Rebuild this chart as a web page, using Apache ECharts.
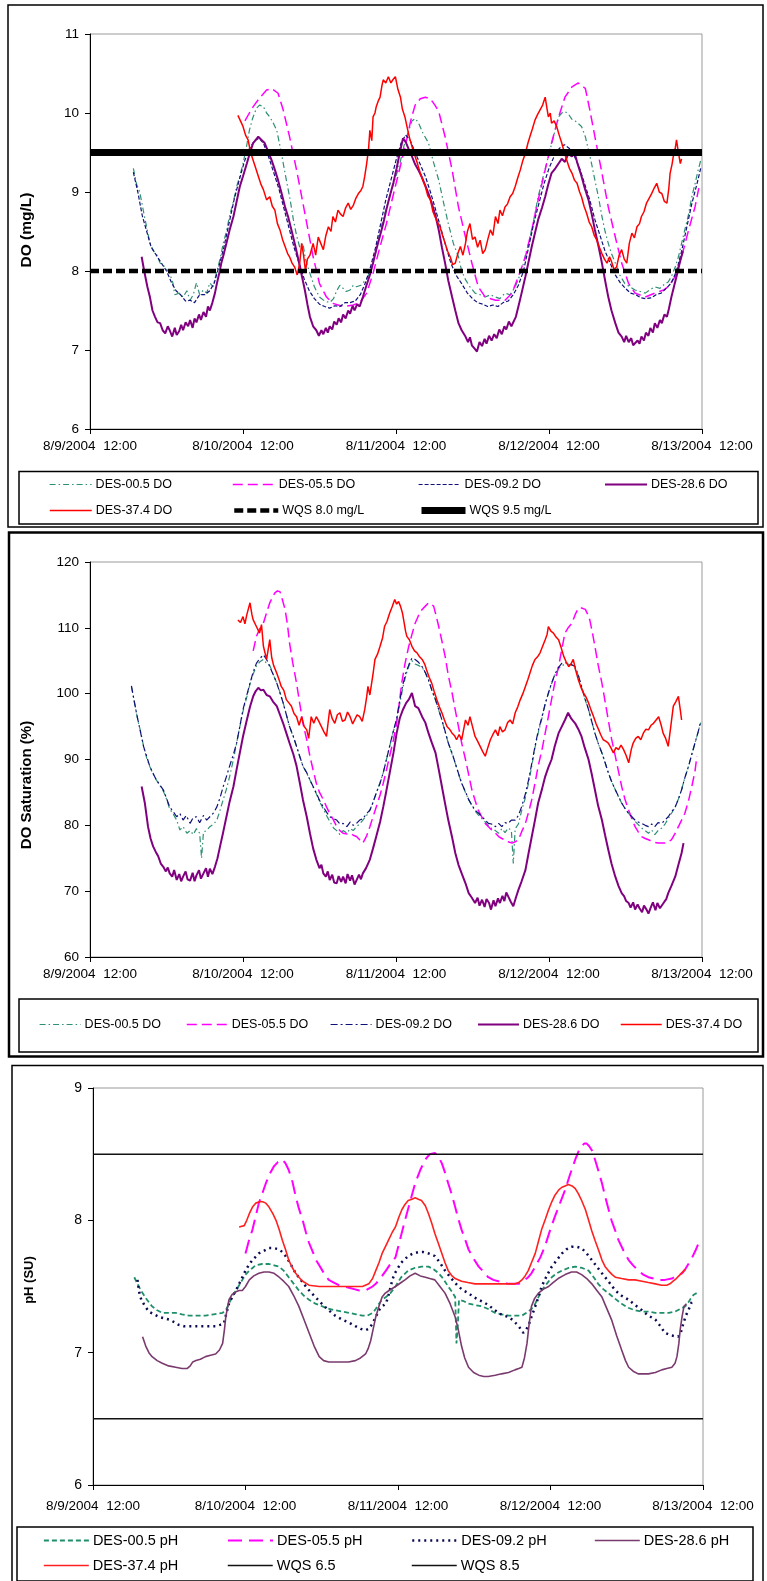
<!DOCTYPE html>
<html><head><meta charset="utf-8">
<script src="https://cdn.jsdelivr.net/npm/echarts@6/dist/echarts.min.js"></script>
<style>html,body{margin:0;padding:0;background:#fff}#c{width:767px;height:1581px}</style>
</head><body><div id="c"></div><script>
// hours since 8/9/2004 12:00
const xTickLabels = ['8/9/2004  12:00','8/10/2004  12:00','8/11/2004  12:00','8/12/2004  12:00','8/13/2004  12:00'];

// ---------- Panel 1 : DO (mg/L) ----------
const do005 = [[6.8,9.30],[7.3,9.1],[7.8,9.0],[8.4,8.75],[8.9,8.55],[9.4,8.35],[10,8.25],[10.5,8.2],[11,8.1],[11.8,8.05],[12.5,7.97],[13,7.85],[13.3,7.7],[14,7.72],[14.6,7.67],[15.2,7.75],[15.7,7.63],[16.2,7.7],[16.7,7.85],[17.2,7.7],[17.8,7.76],[18.3,7.72],[18.8,7.85],[19.3,7.8],[19.9,8.0],[20.4,8.15],[20.9,8.35],[21.4,8.5],[21.9,8.7],[22.5,8.88],[23,9.07],[23.5,9.2],[24,9.36],[24.5,9.55],[25,9.78],[25.5,9.93],[26.1,10.06],[26.6,10.1],[27.2,10.08],[27.7,10.0],[28.2,9.95],[28.7,9.88],[29.3,9.78],[30,9.5],[30.8,9.15],[31.4,8.9],[31.9,8.65],[32.4,8.45],[32.9,8.3],[33.4,8.35],[33.8,8.15],[34.5,7.97],[35.2,7.8],[36,7.67],[36.8,7.62],[37.6,7.6],[38.2,7.65],[38.7,7.75],[39.2,7.82],[39.7,7.78],[40.2,7.74],[40.8,7.76],[41.3,7.82],[41.8,7.8],[42.5,7.82],[43.4,7.9],[44,8.0],[44.4,8.1],[45,8.3],[45.5,8.5],[46.2,8.72],[47,8.94],[47.8,9.15],[48.6,9.36],[49.3,9.6],[50,9.78],[50.5,9.9],[51,9.93],[51.5,9.88],[52.2,9.75],[53.1,9.62],[53.8,9.4],[54.7,9.15],[55.5,8.85],[56.2,8.6],[57,8.35],[57.8,8.18],[58.3,8.0],[58.9,7.89],[59.6,7.8],[60.4,7.72],[61.2,7.7],[62,7.67],[62.8,7.7],[63.6,7.67],[64.3,7.65],[65.1,7.72],[65.9,7.7],[66.7,7.8],[67.2,7.9],[67.7,8.0],[68.3,8.2],[68.8,8.35],[69.5,8.6],[70.3,8.94],[71.1,9.2],[71.9,9.45],[72.7,9.7],[73.5,9.95],[74,10.0],[74.5,10.02],[75.1,9.98],[75.6,9.92],[76.1,9.9],[77.1,9.83],[77.7,9.7],[78.2,9.53],[78.7,9.35],[79.2,9.15],[79.8,8.92],[80.3,8.69],[80.8,8.5],[81.3,8.35],[81.8,8.22],[82.4,8.1],[83.1,7.95],[83.9,7.84],[84.7,7.8],[85.5,7.76],[86.3,7.74],[87.1,7.72],[87.8,7.76],[88.6,7.8],[89.4,7.78],[90.2,7.84],[90.7,7.86],[91.2,7.93],[91.8,8.05],[92.3,8.18],[92.8,8.35],[93.3,8.52],[93.9,8.72],[94.4,8.94],[94.9,9.1],[95.4,9.28],[95.8,9.4]];
const do055 = [[24.3,9.9],[25,10.0],[25.6,10.08],[26.6,10.19],[27.7,10.29],[28.5,10.31],[29.5,10.25],[30.3,10.04],[31.3,9.7],[32.4,9.28],[33.4,8.86],[34.2,8.52],[35,8.18],[36,7.84],[37.1,7.67],[38.1,7.59],[39.7,7.55],[41.3,7.57],[42.3,7.6],[43.4,7.72],[44.4,7.97],[45.5,8.31],[46.5,8.6],[47.5,8.94],[48.6,9.3],[49.5,9.6],[50.3,9.9],[51,10.1],[51.8,10.18],[52.6,10.2],[53.4,10.18],[54.1,10.1],[54.7,10.02],[55.7,9.7],[56.8,9.28],[57.8,8.81],[58.9,8.43],[59.9,8.1],[60.9,7.8],[62,7.67],[63.6,7.63],[65.1,7.63],[66.2,7.72],[67.2,7.93],[68.3,8.18],[69.3,8.52],[70.3,8.9],[71.4,9.28],[72.4,9.62],[73.5,9.95],[74.5,10.2],[75.6,10.33],[76.6,10.38],[77.7,10.31],[78.4,10.04],[79.2,9.7],[80.3,9.24],[81.3,8.81],[82.4,8.43],[83.4,8.1],[84.5,7.84],[85.5,7.72],[87.1,7.67],[88.6,7.72],[90,7.76],[90.7,7.8],[91.8,7.93],[92.8,8.18],[93.9,8.52],[94.9,8.81],[95.5,9.05]];
const do092 = [[6.8,9.25],[7.5,9.0],[8.2,8.7],[8.9,8.5],[9.6,8.3],[10.4,8.2],[11.2,8.1],[12,8.0],[12.8,7.85],[13.5,7.75],[14.2,7.7],[15,7.62],[15.7,7.63],[16.4,7.6],[17.2,7.7],[18,7.7],[18.8,7.75],[19.5,7.85],[20.2,8.05],[21,8.3],[21.8,8.6],[22.6,8.9],[23.4,9.15],[24.2,9.38],[25,9.55],[25.8,9.65],[26.5,9.68],[27.2,9.62],[28,9.45],[28.8,9.25],[29.6,9.05],[30.4,8.8],[31.2,8.55],[32,8.3],[32.8,8.1],[33.6,7.9],[34.4,7.75],[35.2,7.65],[36,7.58],[36.8,7.55],[37.6,7.53],[38.4,7.56],[39.2,7.55],[40,7.6],[40.8,7.6],[41.6,7.62],[42.4,7.7],[43.2,7.85],[44,8.05],[44.8,8.3],[45.6,8.6],[46.4,8.9],[47.2,9.15],[48,9.4],[48.8,9.62],[49.5,9.72],[50.2,9.66],[51,9.5],[51.8,9.35],[52.6,9.2],[53.4,9.0],[54.2,8.78],[55,8.55],[55.8,8.32],[56.6,8.1],[57.4,7.95],[58.3,7.84],[59.2,7.72],[60,7.65],[60.8,7.6],[61.6,7.58],[62.4,7.55],[63.2,7.57],[64,7.55],[64.8,7.6],[65.6,7.62],[66.4,7.7],[67.2,7.82],[68,8.0],[68.8,8.3],[69.6,8.6],[70.4,8.85],[71.2,9.1],[72,9.3],[72.8,9.45],[73.6,9.55],[74.4,9.6],[75.2,9.55],[76,9.45],[76.8,9.3],[77.6,9.1],[78.4,8.9],[79.2,8.65],[80,8.45],[80.8,8.25],[81.6,8.1],[82.4,7.95],[83.2,7.85],[84,7.78],[84.8,7.72],[85.6,7.7],[86.4,7.66],[87.2,7.65],[88,7.66],[88.8,7.7],[89.6,7.72],[90.4,7.78],[91.2,7.85],[92,8.0],[92.8,8.25],[93.6,8.55],[94.4,8.85],[95.2,9.1],[95.8,9.3]];
const do286 = [[8.1,8.18],[8.5,8.0],[9,7.8],[9.4,7.67],[9.8,7.5],[10.2,7.42],[10.6,7.35],[11,7.34],[11.4,7.25],[11.8,7.21],[12.2,7.3],[12.5,7.25],[12.9,7.17],[13.3,7.28],[13.6,7.19],[14,7.24],[14.3,7.32],[14.6,7.25],[15,7.35],[15.4,7.3],[15.7,7.38],[16.1,7.28],[16.4,7.4],[16.7,7.35],[17.1,7.45],[17.4,7.38],[17.8,7.48],[18.2,7.42],[18.5,7.55],[18.8,7.5],[19.2,7.6],[19.6,7.72],[19.9,7.84],[20.3,7.98],[20.6,8.1],[21,8.22],[21.4,8.35],[21.9,8.52],[22.5,8.69],[23,8.88],[23.5,9.07],[24,9.2],[24.6,9.36],[25.1,9.5],[25.6,9.62],[26,9.66],[26.4,9.7],[26.9,9.66],[27.4,9.62],[27.9,9.52],[28.5,9.4],[29,9.28],[29.5,9.15],[30,9.0],[30.6,8.81],[31.1,8.68],[31.6,8.52],[32.2,8.32],[32.7,8.14],[33.2,7.95],[33.7,7.76],[34.1,7.58],[34.5,7.42],[35,7.3],[35.5,7.25],[35.9,7.18],[36.3,7.25],[36.6,7.2],[37,7.28],[37.3,7.22],[37.6,7.3],[38,7.26],[38.3,7.36],[38.7,7.32],[39,7.4],[39.4,7.35],[39.7,7.45],[40.1,7.4],[40.5,7.5],[40.8,7.46],[41.2,7.56],[41.5,7.5],[41.9,7.58],[42.3,7.55],[42.8,7.67],[43.3,7.8],[43.9,7.95],[44.4,8.1],[44.9,8.27],[45.5,8.45],[46,8.6],[46.5,8.78],[47,8.94],[47.6,9.12],[48.1,9.3],[48.6,9.5],[49.1,9.68],[49.6,9.62],[50.1,9.52],[50.5,9.45],[51,9.35],[51.5,9.28],[52.1,9.18],[52.6,9.08],[53.1,8.98],[53.6,8.86],[54.2,8.7],[54.7,8.52],[55.2,8.3],[55.7,8.1],[56.2,7.88],[56.8,7.67],[57.3,7.5],[57.8,7.34],[58.3,7.25],[58.9,7.17],[59.3,7.1],[59.6,7.16],[59.9,7.06],[60.3,7.02],[60.7,6.98],[61.1,7.1],[61.5,7.05],[61.9,7.14],[62.2,7.08],[62.6,7.18],[63,7.12],[63.4,7.2],[63.8,7.15],[64.2,7.26],[64.6,7.2],[65,7.3],[65.3,7.26],[65.7,7.36],[66.1,7.3],[66.4,7.28],[66.8,7.42],[67.2,7.55],[67.7,7.72],[68.3,7.93],[68.8,8.12],[69.3,8.31],[69.8,8.48],[70.3,8.65],[70.9,8.8],[71.4,8.94],[71.9,9.1],[72.4,9.24],[73,9.3],[73.5,9.36],[74,9.42],[74.5,9.38],[75,9.48],[75.6,9.45],[76,9.5],[76.4,9.38],[77.1,9.2],[77.6,9.05],[78.2,8.9],[78.7,8.72],[79.2,8.52],[79.8,8.3],[80.3,8.1],[80.8,7.88],[81.3,7.67],[81.8,7.5],[82.4,7.34],[82.9,7.22],[83.4,7.17],[83.8,7.1],[84.1,7.18],[84.5,7.1],[84.9,7.15],[85.2,7.06],[85.5,7.04],[85.9,7.12],[86.2,7.08],[86.5,7.17],[86.9,7.12],[87.2,7.22],[87.6,7.18],[87.9,7.28],[88.3,7.22],[88.6,7.34],[89,7.28],[89.4,7.38],[89.7,7.34],[90.1,7.45],[90.5,7.42],[90.8,7.52],[91.2,7.67],[91.6,7.8],[92,7.93],[92.5,8.1],[93,8.25]];
const do374 = [[23.2,9.97],[23.6,9.9],[24,9.83],[24.4,9.72],[24.8,9.66],[25.2,9.5],[25.6,9.4],[26,9.3],[26.4,9.2],[26.8,9.1],[27.2,9.03],[27.7,8.9],[28.2,8.94],[28.6,8.82],[29,8.77],[29.4,8.6],[29.8,8.52],[30.2,8.4],[30.6,8.31],[31,8.22],[31.3,8.18],[31.7,8.1],[32.1,8.05],[32.5,7.95],[32.9,8.1],[33.2,8.35],[33.5,8.2],[33.8,8.0],[34.1,8.15],[34.5,8.2],[35,8.35],[35.4,8.2],[35.8,8.43],[36.2,8.35],[36.6,8.27],[37,8.45],[37.4,8.56],[37.8,8.5],[38.1,8.69],[38.5,8.62],[38.9,8.77],[39.3,8.72],[39.7,8.69],[40.1,8.8],[40.5,8.86],[40.9,8.78],[41.3,8.83],[41.7,8.92],[42.1,8.98],[42.5,9.02],[42.8,9.07],[43.1,9.2],[43.4,9.36],[43.7,9.55],[43.9,9.78],[44.2,9.65],[44.4,9.95],[44.7,10.0],[44.9,10.08],[45.2,10.15],[45.5,10.2],[45.8,10.35],[46,10.42],[46.4,10.38],[46.8,10.46],[47.2,10.38],[47.5,10.42],[47.9,10.46],[48.3,10.3],[48.7,10.2],[49,10.05],[49.4,9.95],[49.8,9.8],[50.2,9.66],[50.6,9.55],[51,9.45],[51.4,9.35],[51.8,9.24],[52.2,9.15],[52.6,9.07],[53,8.95],[53.4,8.9],[53.8,8.75],[54.1,8.69],[54.5,8.62],[54.9,8.56],[55.3,8.45],[55.7,8.35],[56.1,8.25],[56.5,8.18],[56.9,8.08],[57.3,8.1],[57.7,8.22],[58.1,8.31],[58.5,8.2],[58.9,8.35],[59.2,8.5],[59.6,8.6],[60,8.4],[60.4,8.43],[60.8,8.3],[61.2,8.39],[61.6,8.22],[62,8.27],[62.4,8.4],[62.8,8.52],[63.2,8.45],[63.6,8.69],[64,8.6],[64.3,8.77],[64.7,8.7],[65.1,8.81],[65.5,8.85],[65.9,8.94],[66.3,8.98],[66.7,9.07],[67.1,9.18],[67.5,9.28],[67.9,9.4],[68.3,9.49],[68.7,9.62],[69,9.7],[69.4,9.8],[69.8,9.91],[70.2,9.98],[70.6,10.04],[71,10.1],[71.4,10.2],[71.7,10.05],[71.9,9.95],[72.2,10.0],[72.4,9.87],[72.8,9.9],[73.2,9.83],[73.6,9.72],[74,9.62],[74.4,9.5],[74.8,9.4],[75.2,9.3],[75.6,9.24],[76,9.15],[76.4,9.11],[76.8,9.0],[77.1,8.94],[77.5,8.82],[77.9,8.73],[78.3,8.62],[78.7,8.56],[79.1,8.45],[79.5,8.39],[79.9,8.3],[80.3,8.22],[80.7,8.15],[81.1,8.1],[81.5,8.18],[81.8,8.12],[82.2,8.02],[82.6,8.05],[83,8.2],[83.4,8.27],[83.8,8.15],[84.2,8.1],[84.6,8.35],[85,8.48],[85.4,8.42],[85.8,8.56],[86.2,8.6],[86.5,8.69],[86.9,8.75],[87.3,8.86],[87.7,8.92],[88.1,8.98],[88.5,9.05],[88.9,9.11],[89.3,9.0],[89.7,8.98],[90.1,8.88],[90.5,8.86],[90.8,9.05],[91,9.24],[91.3,9.35],[91.5,9.45],[91.8,9.55],[92,9.66],[92.3,9.5],[92.6,9.36],[92.8,9.42]];
const wqs80 = [[0,8.0],[96,8.0]];
const wqs95 = [[0,9.5],[96,9.5]];

// ---------- Panel 2 : DO Saturation (%) ----------
const sat005 = [[6.5,101.0],[7,98.5],[7.5,96],[8,94],[8.4,92],[8.9,90.2],[9.4,88.9],[9.9,87.8],[10.4,86.9],[11,86],[11.5,85.2],[12,84],[12.5,82.5],[13,81.8],[13.6,80.8],[14.1,79.3],[14.6,79.8],[15.2,78.8],[15.7,79.2],[16.2,78.6],[16.7,79.5],[17.2,78.8],[17.5,75],[17.8,79],[18.3,79.2],[18.8,79.8],[19.4,80.2],[19.9,80.8],[20.4,82.3],[20.9,83.9],[21.4,85.5],[21.9,87.4],[22.5,90],[23,92.5],[23.5,95],[24,97.3],[24.6,99.5],[25.1,101.5],[25.6,103],[26.1,104.2],[26.6,104.8],[27.2,105.2],[27.7,104.6],[28.2,104.3],[28.7,103],[29.3,101.6],[29.8,100.2],[30.3,98.6],[30.8,96.8],[31.3,95],[31.9,93.4],[32.4,92],[32.9,90.4],[33.4,89],[34,87.9],[34.5,86.9],[35,85.8],[35.5,84.8],[36,83.6],[36.6,82.5],[37.1,81.5],[37.6,80.6],[38.2,79.6],[38.7,79.2],[39.2,78.6],[39.7,79.2],[40.3,78.8],[40.8,79.5],[41.3,79.2],[41.8,79.8],[42.3,80.2],[42.8,80.8],[43.4,81.5],[43.9,82.3],[44.4,83.5],[44.9,84.9],[45.5,86.5],[46,88],[46.5,90],[47,92],[47.5,94],[48.1,96],[48.6,98.5],[49.1,101],[49.6,103],[50.1,104.4],[50.5,105],[51,104.5],[51.5,104.3],[52.1,104],[52.6,103.2],[53.1,102],[53.6,100.6],[54.2,99],[54.7,97.5],[55.2,96],[55.7,94.2],[56.2,92.5],[56.8,90.8],[57.3,89.4],[57.8,87.8],[58.3,86.4],[58.9,85],[59.4,83.9],[59.9,83],[60.4,82.2],[60.9,81.6],[61.5,81],[62,80.5],[62.5,80],[63,79.5],[63.6,79.2],[64.1,78.8],[64.6,79.5],[65.1,78.9],[65.6,79.6],[66.1,79.2],[66.4,74.2],[66.7,79.5],[67.2,80.2],[67.7,82.2],[68.3,84.2],[68.8,86.5],[69.3,89],[69.8,91.8],[70.3,94],[70.9,96.3],[71.4,98.5],[71.9,100],[72.4,101.5],[73,103],[73.5,103.8],[74,104.3],[74.5,104.4],[75,104.5],[75.6,104.3],[76.1,103.8],[76.6,102.8],[77.1,101],[77.6,99.3],[78.2,97.6],[78.7,95.8],[79.2,94],[79.7,92.5],[80.3,91],[80.8,89.6],[81.3,88],[81.8,86.7],[82.4,85.4],[82.9,84.3],[83.4,83.4],[83.9,82.6],[84.5,81.8],[85,81.2],[85.5,80.6],[86,80.1],[86.5,79.6],[87.1,79.2],[87.6,78.8],[88.1,79.3],[88.6,78.6],[89.1,79.2],[89.7,79.6],[90.2,80.2],[90.7,81],[91.2,81.8],[91.8,82.8],[92.3,84],[92.8,85.4],[93.3,87.2],[93.9,89],[94.4,90.8],[94.9,92.5],[95.4,94.2],[95.8,95.6]];
const sat055 = [[25.6,106.5],[26.1,108.7],[26.6,109.8],[27.2,110.7],[27.7,112.3],[28.2,113.8],[28.6,114.6],[29,115.3],[29.4,115.6],[29.8,115.5],[30.2,114.2],[30.6,112.8],[31,110.3],[31.3,107.7],[31.8,104.7],[32.4,101.6],[32.9,98.5],[33.4,95.5],[34,93],[34.5,90.5],[35,88.4],[35.5,86.4],[36,85],[36.6,83.9],[37.1,82.8],[37.6,81.8],[38.2,80.8],[38.7,79.8],[39.2,79.2],[39.7,78.8],[40.3,78.7],[40.8,78.8],[41.3,78.5],[41.8,78.3],[42.3,77.8],[42.8,77.3],[43.4,78.4],[43.9,79.8],[44.4,81.3],[44.9,82.8],[45.5,84.6],[46,86.4],[46.5,88.4],[47,90.5],[47.6,93],[48.1,95.5],[48.5,98.5],[48.9,101.6],[49.4,104.5],[50,107.2],[50.5,109],[51,110.7],[51.5,111.8],[52.1,112.8],[52.6,113.3],[53.1,113.8],[53.5,113.6],[53.9,113.3],[54.3,111.8],[54.7,110.2],[55.2,108],[55.7,105.7],[56.2,102.8],[56.8,100.1],[57.3,97.5],[57.8,95],[58.3,92.5],[58.9,90],[59.4,87.7],[59.9,85.4],[60.4,83.8],[60.9,82.3],[61.5,81.2],[62,80.3],[62.5,79.8],[63,79.3],[63.6,78.8],[64.1,78.3],[64.6,78],[65.1,77.8],[65.6,77.5],[66.2,77.3],[66.7,77.5],[67.2,77.8],[67.7,79],[68.3,80.3],[68.8,82],[69.3,83.9],[69.8,86.4],[70.3,89],[70.9,91.5],[71.4,94],[71.9,96.5],[72.4,99.1],[72.9,101.6],[73.5,104.1],[74,106.7],[74.5,109.2],[75,110],[75.6,110.7],[76.1,112],[76.6,113],[77.1,113],[77.7,112.8],[78.1,112],[78.4,111.2],[78.8,109.3],[79.2,107.2],[79.7,104.4],[80.3,101.6],[80.8,98.8],[81.3,96],[81.8,93.2],[82.4,90.5],[82.9,88.2],[83.4,85.9],[83.9,84],[84.5,82.3],[85,81],[85.5,79.8],[86,79],[86.5,78.3],[87.1,78],[87.6,77.8],[88.1,77.6],[88.6,77.4],[89.1,77.3],[89.7,77.3],[90.2,77.3],[90.7,77.5],[91.2,77.8],[91.8,78.8],[92.3,79.8],[92.8,80.8],[93.3,81.8],[93.9,83.8],[94.4,85.9],[94.9,88.2],[95.2,90.5]];
const sat092 = [[6.5,101.2],[7.3,97],[8.4,92],[9.4,88.9],[10.4,86.9],[11.5,85.4],[12.5,82.8],[13.1,82],[13.6,81.3],[14.1,81.8],[14.6,80.8],[15.1,81.5],[15.7,80.3],[16.2,81.2],[16.7,81.3],[17.2,80.4],[17.8,81.5],[18.3,80.8],[18.8,81.3],[19.4,81.9],[19.9,82.8],[20.4,84.2],[20.9,85.9],[21.4,87.4],[21.9,89],[22.5,90.8],[23,92.5],[23.5,95],[24,97.6],[24.6,99.8],[25.1,101.6],[25.6,103.3],[26.1,104.6],[26.6,105.3],[27.2,105.9],[27.7,105.2],[28.2,104.1],[28.7,103],[29.3,101.6],[29.8,100.1],[30.3,98.6],[30.8,96.8],[31.3,95],[31.9,93.5],[32.4,92],[32.9,90.5],[33.4,89],[34,88],[34.5,86.9],[35,85.9],[35.5,84.9],[36,83.8],[36.6,82.8],[37.1,82],[37.6,81.3],[38.2,81],[38.7,80.8],[39.2,80.2],[39.7,80.3],[40.3,79.8],[40.8,80.5],[41.3,80],[41.8,80.3],[42.3,80.8],[42.8,81],[43.4,81.8],[43.9,82.3],[44.4,83.5],[44.9,84.9],[45.5,86.4],[46,88],[46.5,90],[47,92],[47.5,94],[48.1,96.2],[48.6,99],[49.1,101.5],[49.6,103.3],[50.1,104.6],[50.5,105.4],[51,105.2],[51.5,104.8],[52.1,104.1],[52.6,103.2],[53.1,102.1],[53.6,100.6],[54.2,99.1],[54.7,97.6],[55.2,96],[55.7,94.3],[56.2,92.5],[56.8,91],[57.3,89.4],[57.8,87.9],[58.3,86.4],[58.9,85.1],[59.4,83.9],[59.9,83.1],[60.4,82.3],[61,81.8],[61.5,81.3],[62,80.8],[62.5,80.3],[63,80.2],[63.6,79.8],[64.1,80.3],[64.6,79.8],[65.1,80.4],[65.6,80.3],[66.1,80.8],[66.7,80.8],[67.2,81.5],[67.7,82.8],[68.3,84.8],[68.8,86.9],[69.3,89.4],[69.8,92],[70.3,94.3],[70.9,96.5],[71.4,98.4],[71.9,100.1],[72.4,101.6],[73,103.1],[73.5,104],[74,104.6],[74.5,104.7],[75,104.6],[75.6,104.4],[76.1,104.1],[76.6,102.8],[77.1,101.1],[77.6,99.4],[78.2,97.6],[78.7,95.8],[79.2,94],[79.7,92.5],[80.3,91],[80.8,89.5],[81.3,88],[81.8,86.7],[82.4,85.4],[82.9,84.4],[83.4,83.4],[83.9,82.6],[84.5,81.8],[85,81.3],[85.5,80.8],[86,80.5],[86.5,80.3],[87.1,80],[87.6,79.8],[88.1,80.2],[88.6,79.8],[89.1,80.4],[89.7,80.3],[90.2,80.8],[90.7,81.3],[91.2,82],[91.8,82.8],[92.3,84],[92.8,85.4],[93.3,87.2],[93.9,89],[94.4,90.8],[94.9,92.5],[95.4,94.2],[95.8,95.8]];
const sat286 = [[8.1,85.9],[8.6,83.4],[9.1,79.8],[9.5,78],[9.9,76.8],[10.3,76],[10.7,75.3],[11.1,74.2],[11.5,73.7],[11.9,73],[12.2,73.6],[12.5,72.7],[12.9,72.2],[13.2,73.2],[13.6,71.7],[14,72.6],[14.3,71.5],[14.6,72.2],[15,73],[15.3,71.8],[15.7,71.6],[16.1,72.8],[16.4,71.5],[16.7,72.4],[17.1,73.2],[17.4,71.9],[17.8,72.7],[18.2,73.5],[18.5,72.2],[18.8,73.4],[19.2,72.6],[19.6,73.7],[20,75],[20.4,76.8],[20.9,79],[21.4,81.3],[21.9,83.6],[22.5,85.9],[23,88.5],[23.5,91],[24,93.5],[24.6,96],[25.1,98],[25.6,99.6],[26,100.4],[26.4,100.9],[26.8,100.5],[27.2,100.6],[27.7,99.8],[28.2,99.6],[28.7,98.8],[29.3,98.1],[29.8,96.8],[30.3,95.5],[30.8,94],[31.3,92.5],[31.9,90.8],[32.4,89],[32.9,86.5],[33.4,83.9],[34,81.3],[34.5,78.8],[35,76.5],[35.5,74.8],[36,73.5],[36.3,74],[36.6,72.7],[37,72.2],[37.3,73],[37.6,71.7],[38,72.5],[38.3,71.3],[38.7,71.2],[39,72.3],[39.4,71.4],[39.7,72.2],[40.1,71.2],[40.4,72.6],[40.8,71.6],[41.1,72.4],[41.5,71],[41.8,71.2],[42.2,72.5],[42.5,71.8],[42.8,72.7],[43.3,73.5],[43.9,74.8],[44.4,76.5],[44.9,78.3],[45.5,80.5],[46,82.8],[46.5,85.3],[47,87.9],[47.6,91],[48.1,94],[48.6,96.3],[49.1,97.6],[49.6,98.6],[50,99.1],[50.5,100.1],[51,98.1],[51.5,97.8],[52.1,96.5],[52.6,95.6],[53.1,94],[53.6,92.6],[54.2,91],[54.7,88.5],[55.2,85.9],[55.7,83.3],[56.2,80.8],[56.8,78.2],[57.3,75.8],[57.8,74],[58.3,72.7],[58.9,71.2],[59.4,69.7],[59.9,69],[60.4,68.2],[60.8,69],[61.1,67.8],[61.5,68.7],[61.9,67.6],[62.2,68.8],[62.6,68.2],[62.9,67.2],[63.3,68.6],[63.6,67.7],[64,68.9],[64.3,68.2],[64.7,69.3],[65,68.5],[65.3,69.8],[65.6,69.2],[66,68.4],[66.4,67.7],[66.8,69],[67.2,70.2],[67.7,71.5],[68.3,73.2],[68.8,75.8],[69.3,78.3],[69.8,80.8],[70.3,83.4],[70.9,85.5],[71.4,87.4],[71.9,88.8],[72.4,90],[72.9,92],[73.5,94],[74,95],[74.5,96],[75,97.1],[75.5,96.2],[76.1,95.5],[76.6,94.6],[77.1,93.5],[77.6,91.8],[78.2,90],[78.7,87.8],[79.2,85.4],[79.7,83],[80.3,80.8],[80.8,78.5],[81.3,76.3],[81.8,74.2],[82.4,72.2],[82.9,70.8],[83.4,69.7],[83.8,69.2],[84.1,68.5],[84.5,68.2],[84.8,67.5],[85.2,68.3],[85.5,67.2],[85.9,68],[86.2,67.4],[86.6,66.8],[86.9,67.8],[87.3,67.2],[87.6,66.6],[88,67.6],[88.3,68.3],[88.7,67.1],[89,68.2],[89.4,67.4],[89.7,67.2],[90.1,68.4],[90.4,68.8],[90.7,69.7],[91.2,70.8],[91.8,72.2],[92.3,74],[92.8,75.8],[93.1,77.3]];
const sat374 = [[23.2,111.2],[23.6,110.8],[24,111.7],[24.3,110.6],[24.6,112],[25.1,113.8],[25.4,112],[25.6,111.2],[26.1,110.2],[26.6,109.2],[26.9,110.5],[27.2,107.2],[27.7,105.2],[28,107],[28.2,108.2],[28.5,105.5],[28.8,104.3],[29.3,103.1],[29.7,102],[30,101.1],[30.4,100.5],[30.8,99.1],[31.2,98.6],[31.6,98.1],[32,97],[32.4,96.5],[32.8,95.2],[33.2,96.5],[33.6,95],[34,94.5],[34.3,93.2],[34.7,96.5],[35.1,95.5],[35.5,96.5],[35.9,95.8],[36.3,95],[36.7,94.2],[37.1,93.5],[37.4,96],[37.6,97.6],[38,96.2],[38.4,95.5],[38.8,96.8],[39.2,97.1],[39.6,95.8],[40,96],[40.4,97.2],[40.8,96.5],[41.2,95.4],[41.5,95.5],[41.9,96.8],[42.3,96.5],[42.7,95.8],[43.1,97.6],[43.4,99.5],[43.6,101.1],[43.9,99.8],[44.1,100.1],[44.4,103],[44.7,105.2],[45.1,106],[45.5,107.2],[45.9,108.5],[46.2,110.2],[46.6,111],[47,112.2],[47.4,113.2],[47.8,114.3],[48.1,113.6],[48.4,114],[48.7,113.3],[49,112.3],[49.2,111.2],[49.5,109.5],[49.7,108.7],[50.1,108.2],[50.5,107.2],[50.9,106.5],[51.3,106.2],[51.7,105.6],[52.1,105.2],[52.5,104.5],[52.8,103.6],[53.2,102.5],[53.6,101.6],[54,100.3],[54.4,99.1],[54.8,98],[55.2,97.1],[55.6,96],[56,95],[56.4,94.6],[56.8,94],[57.2,93.6],[57.5,93],[57.9,93.8],[58.3,93],[58.6,94.5],[58.9,96],[59.3,95.2],[59.6,96.5],[60,95],[60.4,93.5],[60.8,92.8],[61.2,92],[61.6,91.2],[62,90.5],[62.4,91.8],[62.8,93],[63.2,93.8],[63.6,94.5],[64,93.6],[64.3,95],[64.7,94.2],[65.1,94.5],[65.5,95.6],[65.9,96],[66.3,95.4],[66.7,97.1],[67.1,98],[67.5,99.1],[67.9,100],[68.3,101.1],[68.7,102.2],[69,103.1],[69.4,104.3],[69.8,105.2],[70.2,105.6],[70.6,106.2],[71,107.2],[71.4,108.2],[71.7,109],[71.9,110.2],[72.3,109.5],[72.7,109.2],[73.1,108.6],[73.5,108.2],[73.9,107],[74.3,105.7],[74.7,104.8],[75.1,104.1],[75.5,104.6],[75.8,105.2],[76.2,103.5],[76.6,102.1],[77,101],[77.4,100.1],[77.8,99.5],[78.2,98.6],[78.6,97.5],[79,96.5],[79.4,95.4],[79.8,94.5],[80.1,93.8],[80.5,93],[80.9,92.8],[81.3,92.5],[81.7,91.8],[82.1,91],[82.5,91.8],[82.9,91.5],[83.3,92.2],[83.7,91.5],[84.1,90.6],[84.5,89.5],[84.9,91.5],[85.2,92.5],[85.6,93.2],[86,93.5],[86.4,93],[86.8,94],[87.2,94.6],[87.6,94.5],[88,95.2],[88.4,95.5],[88.8,96],[89.2,96.5],[89.6,95.2],[89.9,94],[90.3,93.2],[90.7,92],[91.1,95],[91.5,98.1],[91.9,98.8],[92.3,99.6],[92.6,97.5],[92.8,96]];

// ---------- Panel 3 : pH (SU) ----------
const ph005 = [[6.5,7.57],[7.2,7.5],[7.8,7.45],[8.5,7.4],[9.3,7.35],[10.1,7.32],[10.9,7.3],[12,7.3],[13,7.3],[14,7.29],[15.1,7.28],[16.4,7.28],[17.7,7.28],[19,7.29],[20.4,7.3],[21,7.33],[21.4,7.37],[22,7.43],[22.5,7.47],[23,7.51],[23.5,7.55],[24,7.59],[24.6,7.62],[25.1,7.64],[25.6,7.66],[26.6,7.67],[27.7,7.67],[28.5,7.66],[29.3,7.65],[30,7.62],[30.8,7.57],[31.6,7.52],[32.4,7.47],[33.2,7.43],[34,7.4],[35,7.37],[36.1,7.35],[37.2,7.33],[38.2,7.32],[39.3,7.31],[40.3,7.3],[41.4,7.29],[42.4,7.28],[43.2,7.28],[44,7.3],[44.5,7.33],[45,7.37],[45.5,7.4],[46.1,7.42],[46.8,7.45],[47.6,7.5],[48.5,7.57],[49.6,7.62],[50.6,7.64],[51.7,7.65],[52.8,7.65],[53.6,7.63],[54.4,7.6],[55.1,7.56],[55.9,7.5],[56.5,7.46],[57,7.42],[57.2,7.07],[57.4,7.2],[57.6,7.4],[58.3,7.39],[59.1,7.37],[60.1,7.36],[61.2,7.35],[62.2,7.33],[63.3,7.3],[64.3,7.29],[65.4,7.28],[66.5,7.28],[67.5,7.28],[68.5,7.31],[69,7.33],[69.6,7.37],[70.1,7.42],[70.6,7.47],[71.4,7.52],[72.2,7.57],[73,7.6],[73.8,7.62],[74.8,7.64],[75.9,7.65],[77,7.64],[78,7.62],[78.8,7.57],[79.5,7.52],[80.3,7.48],[81.1,7.45],[82.1,7.41],[83.2,7.37],[84.2,7.34],[85.3,7.32],[86.4,7.31],[87.4,7.31],[88.5,7.3],[89.5,7.3],[90.6,7.3],[91.6,7.31],[92.4,7.33],[93.2,7.35],[93.7,7.38],[94.2,7.42],[94.6,7.44],[95,7.45]];
const ph055 = [[24,7.75],[24.5,7.84],[25.1,7.93],[25.6,8.03],[26.1,8.13],[26.7,8.21],[27.2,8.28],[27.8,8.35],[28.5,8.41],[29.1,8.44],[29.8,8.46],[30.3,8.43],[30.8,8.38],[31.4,8.29],[31.9,8.18],[32.4,8.09],[33,8.0],[33.5,7.91],[34,7.83],[34.6,7.76],[35.1,7.7],[35.6,7.66],[36.1,7.62],[36.6,7.58],[37.1,7.55],[37.9,7.53],[38.7,7.51],[39.5,7.5],[40.3,7.49],[41.1,7.48],[41.9,7.47],[42.9,7.47],[44,7.5],[44.5,7.52],[45,7.55],[45.5,7.58],[46.1,7.62],[46.8,7.67],[47.6,7.72],[48.3,7.85],[49.1,8.0],[49.9,8.14],[50.7,8.28],[51.5,8.38],[52.3,8.46],[53,8.5],[53.8,8.51],[54.4,8.48],[54.9,8.43],[55.4,8.36],[55.9,8.28],[56.5,8.19],[57,8.1],[57.5,8.01],[58,7.93],[58.6,7.85],[59.1,7.78],[59.9,7.71],[60.7,7.65],[61.5,7.61],[62.2,7.57],[63,7.55],[63.8,7.54],[64.6,7.53],[65.4,7.52],[66.2,7.52],[67,7.52],[67.7,7.54],[68.5,7.57],[69,7.6],[69.6,7.65],[70.4,7.72],[71.1,7.8],[71.9,7.92],[72.7,8.03],[73.5,8.13],[74.3,8.23],[75.1,8.35],[75.9,8.46],[76.4,8.52],[76.9,8.56],[77.3,8.58],[77.7,8.58],[78.1,8.56],[78.5,8.53],[79,8.46],[79.5,8.38],[80.1,8.28],[80.6,8.18],[81.1,8.09],[81.6,8.0],[82.2,7.92],[82.7,7.85],[83.5,7.77],[84.3,7.7],[85,7.66],[85.8,7.62],[86.6,7.59],[87.4,7.57],[88.2,7.56],[89,7.55],[90,7.55],[91.1,7.56],[91.9,7.58],[92.7,7.6],[93.2,7.63],[93.7,7.67],[94.2,7.71],[94.8,7.77],[95.5,7.85]];
const ph092 = [[7,7.55],[7.3,7.45],[7.6,7.4],[8.2,7.35],[8.8,7.31],[9.6,7.29],[10.4,7.27],[11.2,7.26],[12,7.25],[12.8,7.23],[13.5,7.21],[14.3,7.2],[15.1,7.2],[16.2,7.2],[17.2,7.2],[18.2,7.2],[19.3,7.2],[20,7.21],[20.6,7.22],[21,7.3],[21.4,7.37],[22,7.43],[22.5,7.47],[23,7.52],[23.5,7.57],[24,7.62],[24.6,7.67],[25.3,7.71],[26.1,7.75],[26.9,7.77],[27.7,7.79],[28.5,7.79],[29.3,7.78],[29.8,7.76],[30.3,7.73],[31.1,7.67],[31.9,7.6],[32.7,7.55],[33.5,7.5],[34.2,7.46],[35,7.42],[36,7.37],[37.1,7.32],[38.1,7.28],[39.2,7.25],[40.2,7.23],[41.3,7.2],[42.1,7.18],[42.9,7.17],[43.4,7.18],[44,7.22],[44.5,7.27],[45,7.32],[45.5,7.35],[46.1,7.37],[46.6,7.45],[47.1,7.55],[47.5,7.6],[48.5,7.68],[49.6,7.73],[50.4,7.75],[51.2,7.76],[52,7.76],[52.8,7.75],[53.8,7.73],[54.6,7.68],[55.4,7.62],[56.4,7.56],[57.5,7.5],[58.3,7.47],[59.1,7.45],[59.9,7.42],[60.7,7.4],[61.5,7.38],[62.2,7.36],[63,7.33],[63.8,7.3],[64.6,7.28],[65.4,7.27],[66.2,7.24],[67,7.2],[67.7,7.15],[68.1,7.17],[68.5,7.2],[69,7.27],[69.6,7.35],[70.1,7.42],[70.6,7.5],[71.4,7.58],[72.2,7.65],[73,7.7],[73.8,7.75],[74.5,7.78],[75.3,7.8],[76.1,7.8],[76.9,7.79],[77.7,7.75],[78.5,7.7],[79.3,7.65],[80.1,7.6],[81.1,7.54],[82.2,7.47],[83.2,7.43],[84.3,7.4],[85.3,7.36],[86.4,7.32],[87.4,7.28],[88.5,7.25],[89.3,7.2],[90,7.15],[91,7.13],[92.1,7.12],[92.5,7.15],[92.9,7.22],[93.3,7.28],[93.7,7.32],[94.2,7.38],[94.6,7.4]];
const ph286 = [[7.8,7.12],[8.3,7.05],[8.8,7.0],[9.3,6.97],[10.1,6.94],[10.9,6.92],[11.9,6.9],[13,6.89],[14,6.88],[14.8,6.88],[15.3,6.9],[15.7,6.93],[16.2,6.94],[16.9,6.95],[17.7,6.97],[18.5,6.98],[19.3,6.99],[19.9,7.02],[20.4,7.07],[20.7,7.18],[20.9,7.27],[21.2,7.35],[21.4,7.4],[21.9,7.44],[22.5,7.46],[23,7.47],[23.5,7.47],[24,7.5],[24.6,7.55],[25.3,7.58],[26.1,7.6],[26.9,7.61],[27.7,7.61],[28.5,7.6],[29.3,7.57],[30,7.54],[30.8,7.5],[31.6,7.43],[32.4,7.35],[33.2,7.25],[34,7.15],[34.8,7.05],[35.6,6.97],[36.3,6.94],[37.1,6.93],[38.1,6.93],[39.2,6.93],[40.2,6.93],[41.3,6.94],[42.1,6.96],[42.9,6.99],[43.3,7.03],[43.7,7.09],[44.1,7.18],[44.5,7.27],[45,7.35],[45.5,7.42],[46,7.45],[46.6,7.47],[47.6,7.5],[48.5,7.53],[49.1,7.55],[49.9,7.58],[50.7,7.6],[51.5,7.58],[52.3,7.57],[53,7.56],[53.8,7.55],[54.6,7.5],[55.4,7.45],[56.2,7.37],[57,7.27],[57.5,7.17],[58,7.05],[58.5,6.96],[59.1,6.89],[59.9,6.85],[60.7,6.83],[61.5,6.82],[62.2,6.82],[63.3,6.83],[64.3,6.84],[65.4,6.85],[66.4,6.87],[67,6.88],[67.5,6.89],[67.9,6.96],[68.3,7.07],[68.6,7.2],[69,7.35],[69.5,7.41],[70.1,7.45],[70.9,7.48],[71.7,7.5],[72.4,7.53],[73.2,7.56],[74.3,7.59],[75.3,7.61],[76.1,7.61],[76.9,7.59],[77.7,7.56],[78.5,7.52],[79.3,7.47],[80.1,7.42],[80.8,7.34],[81.6,7.25],[82.4,7.13],[83.2,7.02],[83.8,6.94],[84.3,6.89],[85,6.86],[85.8,6.84],[86.6,6.84],[87.4,6.84],[88.5,6.85],[89.5,6.87],[90.3,6.88],[91.1,6.89],[91.6,6.92],[91.9,6.97],[92.2,7.07],[92.4,7.17],[92.7,7.27],[93,7.35],[93.4,7.37]];
const ph374 = [[23,7.95],[23.8,7.96],[24.2,8.0],[24.6,8.05],[25.1,8.1],[25.6,8.13],[26.2,8.14],[26.7,8.14],[27.2,8.13],[27.7,8.1],[28.3,8.05],[28.8,8.0],[29.3,7.93],[29.8,7.85],[30.3,7.78],[30.8,7.7],[31.4,7.64],[31.9,7.6],[32.4,7.57],[33,7.54],[34,7.51],[35.6,7.5],[37.7,7.5],[40.3,7.5],[42.4,7.5],[43.4,7.52],[44,7.56],[44.5,7.62],[45,7.68],[45.5,7.75],[46,7.8],[46.6,7.86],[47.1,7.91],[47.6,7.95],[48.1,8.02],[48.6,8.08],[49.1,8.12],[49.6,8.15],[50.2,8.16],[50.7,8.17],[51.2,8.16],[51.7,8.15],[52.3,8.11],[52.8,8.05],[53.3,7.98],[53.8,7.9],[54.4,7.82],[54.9,7.75],[55.4,7.68],[55.9,7.62],[56.5,7.58],[57,7.56],[58,7.54],[59,7.53],[60.1,7.52],[62.2,7.52],[64.3,7.52],[66.4,7.52],[67,7.53],[67.5,7.55],[68,7.58],[68.5,7.62],[69,7.68],[69.6,7.75],[70.1,7.84],[70.6,7.93],[71.2,8.01],[71.7,8.08],[72.2,8.14],[72.7,8.19],[73.3,8.23],[73.8,8.25],[74.3,8.26],[74.8,8.27],[75.4,8.26],[75.9,8.24],[76.4,8.2],[76.9,8.15],[77.5,8.08],[78,8.0],[78.5,7.92],[79,7.85],[79.6,7.77],[80.1,7.7],[80.6,7.65],[81.1,7.62],[81.7,7.59],[82.2,7.57],[83.2,7.56],[84.3,7.55],[85.3,7.55],[86.4,7.54],[87.4,7.53],[88.5,7.52],[89.5,7.51],[90.3,7.51],[90.8,7.52],[91.3,7.54],[91.8,7.56],[92.4,7.59],[93,7.62],[93.2,7.63]];
const wqs65 = [[0,6.5],[96,6.5]];
const wqs85 = [[0,8.5],[96,8.5]];

const FONT = "'Liberation Sans', Arial, sans-serif";
const chart = echarts.init(document.getElementById('c'), null, {renderer:'canvas'});

function xAx(gi, margin){
  return {type:'value', gridIndex:gi, min:0, max:96, interval:24,
    axisLine:{show:true, lineStyle:{color:'#000', width:1}},
    axisTick:{show:true, length:5, lineStyle:{color:'#000'}},
    splitLine:{show:false},
    axisLabel:{color:'#000', fontFamily:FONT, fontSize:13.5, margin:margin,
      formatter:(v)=>xTickLabels[Math.round(v/24)]}};
}
function yAx(gi, min, max, interval, fs){
  return {type:'value', gridIndex:gi, min:min, max:max, interval:interval,
    axisLine:{show:true, lineStyle:{color:'#000', width:1}},
    axisTick:{show:true, length:5, lineStyle:{color:'#000'}},
    splitLine:{show:false},
    axisLabel:{color:'#000', fontFamily:FONT, fontSize:fs, margin:11}};
}
function ser(name, data, gi, color, width, type, z){
  return {name:name, type:'line', xAxisIndex:gi, yAxisIndex:gi, data:data,
    symbol:'none', showSymbol:false, silent:true, animation:false, z:z||2,
    lineStyle:{color:color, width:width, type:type, cap:'butt'}, itemStyle:{color:color}};
}
const TEAL='#2f8f74', MAG='#ff00ff', NAVY='#10107a', PURP='#800080', RED='#ff0000';

const series = [
  ser('DES-00.5 DO', do005, 0, TEAL, 1.2, [6,3,1.5,3]),
  ser('DES-05.5 DO', do055, 0, MAG, 1.5, [10,5]),
  ser('DES-09.2 DO', do092, 0, NAVY, 1.2, [4,2]),
  ser('DES-28.6 DO', do286, 0, PURP, 2, 'solid'),
  ser('DES-37.4 DO', do374, 0, RED, 1.5, 'solid'),
  ser('WQS 8.0 mg/L', wqs80, 0, '#000', 4.5, [9,4], 3),
  ser('WQS 9.5 mg/L', wqs95, 0, '#000', 7, 'solid', 3),

  ser('DES-00.5 DO ', sat005, 1, TEAL, 1.2, [6,3,1.5,3]),
  ser('DES-05.5 DO ', sat055, 1, MAG, 1.5, [10,5]),
  ser('DES-09.2 DO ', sat092, 1, NAVY, 1.2, [7,3,2,3]),
  ser('DES-28.6 DO ', sat286, 1, PURP, 2, 'solid'),
  ser('DES-37.4 DO ', sat374, 1, RED, 1.5, 'solid'),

  ser('DES-00.5 pH', ph005, 2, '#1f8f6a', 1.8, [5,3]),
  ser('DES-05.5 pH', ph055, 2, MAG, 2, [14,7]),
  ser('DES-09.2 pH', ph092, 2, '#0a0a50', 2.5, [2,4]),
  ser('DES-28.6 pH', ph286, 2, '#7a3a6e', 1.6, 'solid'),
  ser('DES-37.4 pH', ph374, 2, '#ff2020', 1.6, 'solid'),
  ser('WQS 6.5', wqs65, 2, '#111', 1.5, 'solid'),
  ser('WQS 8.5', wqs85, 2, '#111', 1.5, 'solid')
];

function leg(name, left, rowY, fs, w){
  return {data:[name], left:left, top:rowY-8, padding:0, itemWidth:w, itemHeight:16, itemGap:0,
    selectedMode:false,
    itemStyle:{opacity:0, borderWidth:0},
    lineStyle:{width:'inherit'},
    textStyle:{color:'#000', fontFamily:FONT, fontSize:fs, padding:[0,0,0,-1]}};
}
const legends = [
  leg('DES-00.5 DO',49,486,12.5,42), leg('DES-05.5 DO',232,486,12.5,42), leg('DES-09.2 DO',418,486,12.5,42), leg('DES-28.6 DO',604,486,12.5,42),
  leg('DES-37.4 DO',49,512,12.5,42), leg('WQS 8.0 mg/L',232,512,12.5,44), leg('WQS 9.5 mg/L',418,512,12.5,44),
  leg('DES-00.5 DO ',39,1026,12.5,41), leg('DES-05.5 DO ',186,1026,12.5,41), leg('DES-09.2 DO ',330,1026,12.5,41), leg('DES-28.6 DO ',477,1026,12.5,41), leg('DES-37.4 DO ',620,1026,12.5,41),
  leg('DES-00.5 pH',43,1541,14.5,45), leg('DES-05.5 pH',227,1541,14.5,45), leg('DES-09.2 pH',411,1541,14.5,45), leg('DES-28.6 pH',594,1541,14.5,45),
  leg('DES-37.4 pH',43,1566,14.5,45), leg('WQS 6.5',227,1566,14.5,45), leg('WQS 8.5',411,1566,14.5,45)
];

function box(x,y,w,h,lw){ return {type:'rect', shape:{x:x,y:y,width:w,height:h}, style:{fill:'none', stroke:'#000', lineWidth:lw}, silent:true, z:0}; }
function ytitle(text, x, y, fs){
  return {type:'text', x:x, y:y, rotation:Math.PI/2, silent:true,
    style:{text:text, fill:'#000', font:'bold '+fs+'px '+FONT, textAlign:'center', textVerticalAlign:'middle'}};
}

chart.setOption({
  animation:false,
  backgroundColor:'#fff',
  grid:[
    {left:90, top:34, width:612, height:395, show:true, borderColor:'#9a9a9a', borderWidth:1, backgroundColor:'transparent'},
    {left:90, top:562, width:612, height:395, show:true, borderColor:'#9a9a9a', borderWidth:1, backgroundColor:'transparent'},
    {left:93, top:1088, width:610, height:397, show:true, borderColor:'#9a9a9a', borderWidth:1, backgroundColor:'transparent'}
  ],
  xAxis:[xAx(0,10), xAx(1,10), xAx(2,14)],
  yAxis:[yAx(0,6,11,1,13.5), yAx(1,60,120,10,13.5), yAx(2,6,9,1,14)],
  legend:legends,
  series:series,
  graphic:[
    box(8,5,755,522,1.5),
    box(19,471.5,739,52.5,1.5),
    box(9,532.5,754,524,2.5),
    box(19,999,739,53,1.5),
    box(12,1065.5,751,520,1.5),
    box(17,1527,736,54,1.5),
    ytitle('DO (mg/L)', 27, 230, 15.5),
    ytitle('DO Saturation (%)', 27, 785, 15),
    ytitle('pH (SU)', 29, 1280, 13)
  ]
});
</script></body></html>
